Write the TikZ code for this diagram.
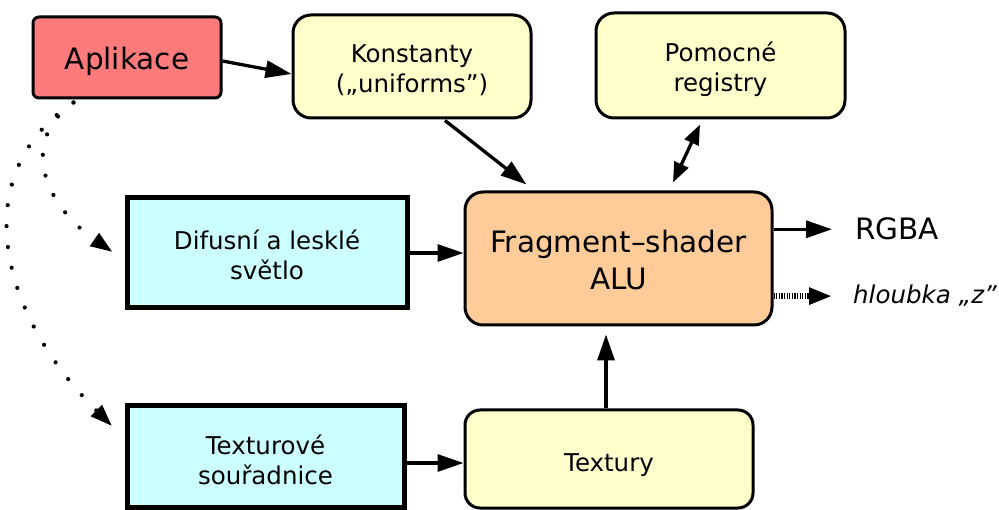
\documentclass[tikz,border=0pt]{standalone}
\usepackage{fontspec}
\setmainfont{DejaVu Sans}
\usetikzlibrary{arrows.meta,calc}

\definecolor{appred}{HTML}{FF7B7B}
\definecolor{ylw}{HTML}{FFFFCC}
\definecolor{cyn}{HTML}{CCFFFF}
\definecolor{org}{HTML}{FFCC99}

\begin{document}
\begin{tikzpicture}[x=1pt,y=-1pt,
  txt/.style={font=\fontsize{24.5}{30}\selectfont, align=center, inner sep=0pt},
  bigtxt/.style={font=\fontsize{29.5}{37}\selectfont, align=center, inner sep=0pt},
  lbl/.style={inner sep=0pt},
  roundbox/.style={draw, line width=3pt, rounded corners=18pt, fill=ylw},
  flatbox/.style={draw, line width=5pt, fill=cyn},
  arr/.style={line width=3.3pt, -{Triangle[length=26pt,width=17pt]}},
  dbl/.style={line width=3.3pt, {Triangle[length=20pt,width=15pt]}-{Triangle[length=20pt,width=15pt]}},
  dotarr/.style={line width=4.2pt, line cap=round, dash pattern=on 0pt off 21pt,
    -{Triangle[length=22pt,width=15pt]}},
  finedash/.style={line width=5.5pt, dash pattern=on 1.3pt off 1.3pt,
    -{Triangle[length=23pt,width=16pt]}}
]
\useasboundingbox (0,0) rectangle (999,510);

% boxes
\node[draw, line width=3pt, rounded corners=6pt, fill=appred,
      minimum width=188pt, minimum height=81pt] (app) at (127,57.5) {};
\node[roundbox, minimum width=238pt, minimum height=103pt] (konst) at (412,66.5) {};
\node[roundbox, minimum width=249pt, minimum height=105pt] (pom) at (720.5,65.5) {};
\node[flatbox, minimum width=280pt, minimum height=110pt] (dif) at (267,253) {};
\node[roundbox, fill=org, minimum width=307pt, minimum height=133pt] (frag) at (618.5,258.5) {};
\node[flatbox, minimum width=277pt, minimum height=101pt] (texc) at (265.5,456.5) {};
\node[roundbox, rounded corners=15pt, minimum width=288pt, minimum height=98pt] (tex) at (609,459) {};

% box captions
\node[bigtxt] (appT) at ($(app.center)+(0,4)$) {Aplikace};
\node[txt] (konstT) at ($(konst.center)+(0,4)$) {Konstanty\\(„uniforms”)};
\node[txt] (pomT) at ($(pom.center)+(0,4)$) {Pomocné\\registry};
\node[txt] (difT) at ($(dif.center)+(0,2)$) {Difusní a lesklé\\světlo};
\node[bigtxt] (fragT) at ($(frag.center)+(0,2)$) {Fragment–shader\\ALU};
\node[txt] (texcT) at ($(texc.center)+(0,3)$) {Texturové\\souřadnice};
\node[txt] (texT) at ($(tex.center)+(0,6)$) {Textury};

% outputs
\node[lbl, font=\fontsize{29.5}{37}\selectfont, anchor=base west] (rgba) at (855,240) {RGBA};
\node[lbl, font=\fontsize{24.5}{30}\selectfont\itshape, anchor=base west] (hl) at (853,304) {hloubka „z”};

% connectors
\draw[arr] ($(app.east)+(0,3.5)$) -- ($(konst.west)+(0,7.5)$);
\draw[arr] ($(konst.south)+(33,1)$) -- ($(frag.north west)+(63,-6)$);
\draw[dbl] ($(pom.south)+(-20.5,5)$) -- ($(frag.north)+(54.5,-8)$);
\draw[arr] (dif.east) -- (dif.east -| frag.west);
\draw[arr] ($(tex.north)+(-3,0)$) -- ($(frag.south)+(-12.5,8)$);
\coordinate (tsrc) at ($(texc.east)+(0,6.5)$);
\draw[arr] (tsrc) -- (tsrc -| tex.west);
\draw[arr] (frag.east |- rgba.west) -- ($(rgba.west)+(-23,0)$);
\draw[finedash] (frag.east |- hl.west) -- ($(hl.west)+(-21,0)$);

% dotted links from the application
\draw[dotarr] ($(app.south west)+(42,3)$) .. controls +(-55,39) and +(-68,-47) .. ($(dif.west)+(-12,-1)$);
\draw[dotarr] ($(app.south west)+(42,3)$) .. controls +(-105,69) and +(-117,-116) .. ($(texc.west)+(-12.5,-30.5)$);
\end{tikzpicture}
\end{document}
